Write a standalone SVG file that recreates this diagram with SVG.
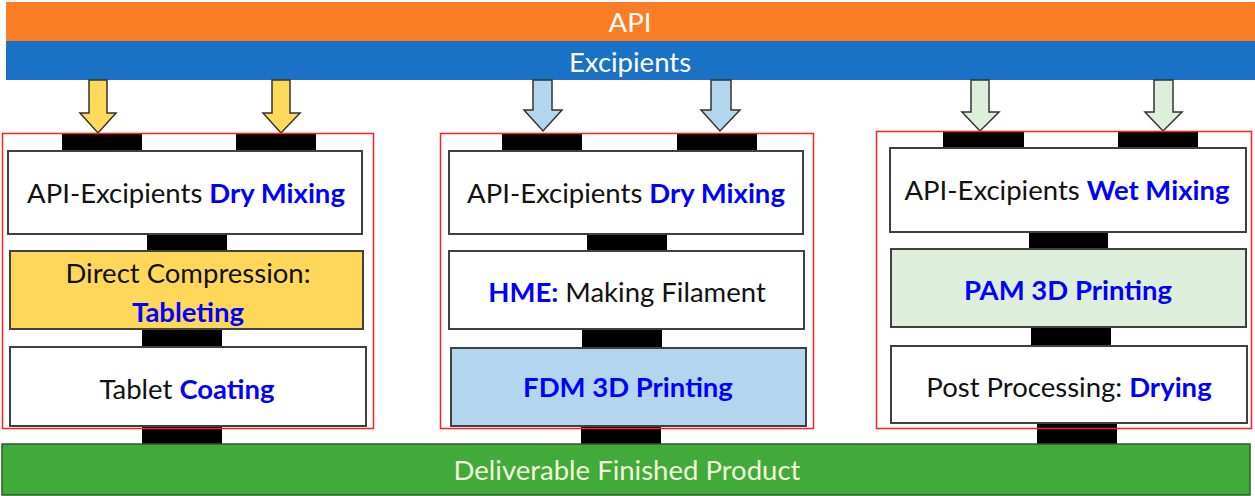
<svg xmlns="http://www.w3.org/2000/svg" width="1255" height="496" viewBox="0 0 1255 496">
  <style>
    text { font-family: Lato, "Open Sans", "Liberation Sans", sans-serif; font-size: 27.5px; text-anchor: middle; fill: #111; }
    .hl { fill: #0000ff; font-weight: bold; }
    .bar-text { fill: #ffffff; }
    .box { stroke: #404040; stroke-width: 2; }
    .panel { fill: none; stroke: #ff2020; stroke-width: 1.5; }
    .link { fill: #000; }
    .arrow { stroke: #333; stroke-width: 1.5; stroke-linejoin: miter; }
  </style>

  <!-- input bars -->
  <g id="api">
    <rect x="6" y="2" width="1249" height="39" fill="#fb7d25"/>
    <text class="bar-text" x="630" y="32">API</text>
  </g>
  <g id="excipients">
    <rect x="6" y="41" width="1249" height="39" fill="#1a72c6"/>
    <text class="bar-text" x="630" y="72">Excipients</text>
  </g>

  <!-- feed arrows and black connector blocks -->
  <g id="connectors">
    <polygon class="arrow" fill="#ffd95a" points="89,80 107,80 107,113 116,113 98,133 80,113 89,113"/>
    <polygon class="arrow" fill="#ffd95a" points="272,80 290,80 290,113 300,113 281,133 263,113 272,113"/>
    <polygon class="arrow" fill="#b4d5ee" points="533,80 552,80 552,110 562,110 543,131 524,110 533,110"/>
    <polygon class="arrow" fill="#b4d5ee" points="711,80 731,80 731,110 740,110 720,131 701,110 711,110"/>
    <polygon class="arrow" fill="#ddeedb" points="971,80 989,80 989,112 999,112 980,131 962,112 971,112"/>
    <polygon class="arrow" fill="#ddeedb" points="1154,80 1173,80 1173,112 1182,112 1163,131 1145,112 1154,112"/>

    <!-- left column links -->
    <rect class="link" x="62" y="134" width="80" height="17"/>
    <rect class="link" x="236" y="134" width="80" height="17"/>
    <rect class="link" x="147" y="234" width="80" height="17"/>
    <rect class="link" x="142" y="329" width="80" height="18"/>
    <rect class="link" x="142" y="426" width="80" height="18"/>

    <!-- middle column links -->
    <rect class="link" x="502" y="133" width="80" height="18"/>
    <rect class="link" x="677" y="133" width="80" height="18"/>
    <rect class="link" x="587" y="234" width="80" height="17"/>
    <rect class="link" x="582" y="329" width="80" height="19"/>
    <rect class="link" x="581" y="426" width="80" height="18"/>

    <!-- right column links -->
    <rect class="link" x="943" y="131" width="81" height="17"/>
    <rect class="link" x="1118" y="131" width="80" height="17"/>
    <rect class="link" x="1029" y="232" width="79" height="17"/>
    <rect class="link" x="1031" y="327" width="80" height="19"/>
    <rect class="link" x="1037" y="423" width="80" height="21"/>
  </g>

  <!-- tablet route -->
  <g id="panel-tablet">
    <rect class="panel" x="2.5" y="133.5" width="371" height="295"/>
  </g>
  <g id="tablet-mixing">
    <rect class="box" x="8" y="151" width="354" height="83" fill="#fff"/>
    <text x="186" y="203">API-Excipients <tspan class="hl">Dry Mixing</tspan></text>
  </g>
  <g id="tablet-compression">
    <rect class="box" x="10" y="251" width="353" height="78" fill="#ffd85a"/>
    <text x="188" y="283">Direct Compression:</text>
    <text class="hl" x="188" y="322">Tableting</text>
  </g>
  <g id="tablet-coating">
    <rect class="box" x="10" y="347" width="356" height="79" fill="#fff"/>
    <text x="187" y="399">Tablet <tspan class="hl">Coating</tspan></text>
  </g>

  <!-- FDM route -->
  <g id="panel-fdm">
    <rect class="panel" x="440.5" y="133.5" width="373" height="295"/>
  </g>
  <g id="fdm-mixing">
    <rect class="box" x="449" y="151" width="354" height="83" fill="#fff"/>
    <text x="626" y="203">API-Excipients <tspan class="hl">Dry Mixing</tspan></text>
  </g>
  <g id="fdm-hme">
    <rect class="box" x="449" y="251" width="355" height="78" fill="#fff"/>
    <text x="627" y="302"><tspan class="hl">HME:</tspan> Making Filament</text>
  </g>
  <g id="fdm-printing">
    <rect class="box" x="451" y="348" width="355" height="78" fill="#b4d5ee"/>
    <text class="hl" x="628" y="397">FDM 3D Printing</text>
  </g>

  <!-- PAM route -->
  <g id="panel-pam">
    <rect class="panel" x="876.5" y="131.5" width="375" height="297"/>
  </g>
  <g id="pam-mixing">
    <rect class="box" x="890" y="148" width="356" height="84" fill="#fff"/>
    <text x="1067" y="200">API-Excipients <tspan class="hl">Wet Mixing</tspan></text>
  </g>
  <g id="pam-printing">
    <rect class="box" x="891" y="249" width="355" height="78" fill="#ddeedb"/>
    <text class="hl" x="1068" y="300">PAM 3D Printing</text>
  </g>
  <g id="pam-drying">
    <rect class="box" x="891" y="346" width="356" height="77" fill="#fff"/>
    <text x="1069" y="397">Post Processing: <tspan class="hl">Drying</tspan></text>
  </g>

  <!-- output bar -->
  <g id="product">
    <rect x="2" y="444" width="1248" height="51" fill="#42aa3a" stroke="#2b5e26" stroke-width="1.5"/>
    <text x="627" y="480" style="fill:#f2f5dc">Deliverable Finished Product</text>
  </g>
</svg>
